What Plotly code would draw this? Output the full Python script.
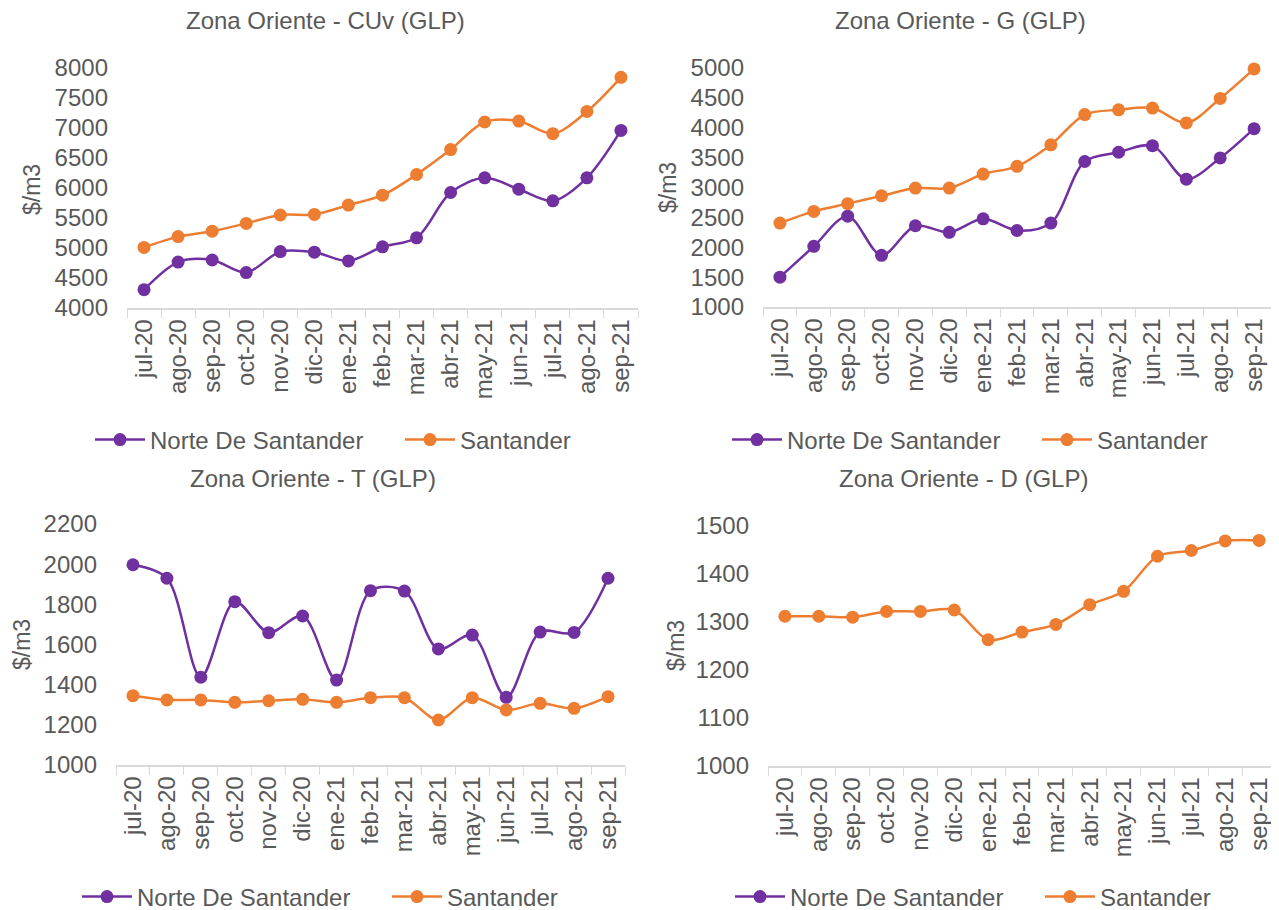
import plotly.graph_objects as go

months = ["jul-20", "ago-20", "sep-20", "oct-20", "nov-20", "dic-20", "ene-21", "feb-21",
          "mar-21", "abr-21", "may-21", "jun-21", "jul-21", "ago-21", "sep-21"]

cuv_norte = [4305, 4765, 4800, 4590, 4940, 4930, 4785, 5020, 5170, 5925, 6170, 5980, 5786, 6170, 6960]
cuv_sant = [5010, 5190, 5280, 5410, 5550, 5560, 5715, 5880, 6225, 6640, 7100, 7115, 6905, 7275, 7845]

g_norte = [1500, 2015, 2520, 1865, 2360, 2250, 2475, 2280, 2405, 3435, 3590, 3700, 3140, 3495, 3985]
g_sant = [2405, 2600, 2730, 2860, 2990, 2990, 3225, 3355, 3715, 4220, 4300, 4330, 4080, 4490, 4985]

t_norte = [1997, 1930, 1437, 1813, 1659, 1742, 1423, 1868, 1866, 1578, 1647, 1337, 1662, 1660, 1930]
t_sant = [1345, 1324, 1324, 1312, 1320, 1327, 1312, 1335, 1335, 1224, 1335, 1274, 1307, 1282, 1340]

d_norte = [None] * 15
d_sant = [1312, 1312, 1310, 1322, 1322, 1325, 1263, 1279, 1295, 1336, 1364, 1437, 1449, 1469, 1470]

titles = ["Zona Oriente - CUv (GLP)", "Zona Oriente - G (GLP)",
          "Zona Oriente - T (GLP)", "Zona Oriente - D (GLP)"]
series_names = ["Norte De Santander", "Santander"]

PURPLE = "#7030A0"
ORANGE = "#ED7D31"
TXT = "#595959"
AXC = "#D9D9D9"
FONT = "Liberation Sans, Arial, sans-serif"

# page body has an 8px margin: figure is placed at (8, 8) in the window
OFF = 8
W, H = 1279 - OFF, 910 - OFF


def px_x(v):
    return (v - OFF) / W


def px_y(v):
    return 1 - (v - OFF) / H


panels = [
    dict(norte=cuv_norte, sant=cuv_sant, xd=(127, 638), yd=(68, 308), rng=(4000, 8000), dt=500,
         title=(325, 20), ytitle=(32, 190), legend=(90, 440)),
    dict(norte=g_norte, sant=g_sant, xd=(763, 1271), yd=(68, 307), rng=(1000, 5000), dt=500,
         title=(960, 20), ytitle=(668, 188), legend=(727, 440)),
    dict(norte=t_norte, sant=t_sant, xd=(116, 625), yd=(524, 765), rng=(1000, 2200), dt=200,
         title=(313, 478), ytitle=(22, 645), legend=(77, 897)),
    dict(norte=d_norte, sant=d_sant, xd=(768, 1276), yd=(526, 766), rng=(1000, 1500), dt=100,
         title=(963, 478), ytitle=(676, 645), legend=(730, 897)),
]

fig = go.Figure()
layout = dict(
    width=W, height=H,
    margin=dict(l=0, r=0, t=0, b=0, autoexpand=False),
    paper_bgcolor="white", plot_bgcolor="white",
    font=dict(family=FONT, color=TXT),
    showlegend=True,
    annotations=[],
)

for i, p in enumerate(panels):
    n = "" if i == 0 else str(i + 1)
    xa, ya = "x" + n, "y" + n
    leg = "legend" + n
    for name, vals, col in [(series_names[0], p["norte"], PURPLE), (series_names[1], p["sant"], ORANGE)]:
        fig.add_trace(go.Scatter(
            x=months, y=vals, name=name, mode="lines+markers",
            line=dict(color=col, width=2.5, shape="spline", smoothing=0.9),
            marker=dict(color=col, size=13),
            xaxis=xa, yaxis=ya, legend=leg, showlegend=True, cliponaxis=False,
        ))
    layout["xaxis" + n] = dict(
        domain=[px_x(p["xd"][0]), px_x(p["xd"][1])], anchor=ya,
        type="category", tickson="boundaries", ticks="outside", ticklen=8,
        tickcolor=AXC, showline=True, linecolor=AXC, linewidth=1.5,
        showgrid=False, tickangle=-90, tickfont=dict(size=24, color=TXT),
        range=[-0.5, 14.5], fixedrange=True, automargin=False,
    )
    layout["yaxis" + n] = dict(
        domain=[px_y(p["yd"][1]), px_y(p["yd"][0])], anchor=xa,
        range=list(p["rng"]), dtick=p["dt"], showgrid=False, zeroline=False,
        showline=False, ticks="", tickfont=dict(size=24, color=TXT),
        ticklabelstandoff=18, automargin=False,
    )
    layout[leg] = dict(
        orientation="h", x=px_x(p["legend"][0]), y=px_y(p["legend"][1]),
        xanchor="left", yanchor="middle", font=dict(size=24, color=TXT),
        bgcolor="rgba(0,0,0,0)", itemwidth=50, tracegroupgap=0,
        entrywidth=245,
    )
    layout["annotations"].append(dict(
        text=titles[i], x=px_x(p["title"][0]), y=px_y(p["title"][1]), xref="paper", yref="paper",
        showarrow=False, xanchor="center", yanchor="middle", font=dict(size=24, color=TXT),
    ))
    layout["annotations"].append(dict(
        text="$/m3", x=px_x(p["ytitle"][0]), y=px_y(p["ytitle"][1]), xref="paper", yref="paper",
        showarrow=False, xanchor="center", yanchor="middle", textangle=-90,
        font=dict(size=23, color=TXT),
    ))

fig.update_layout(**layout)
fig.write_html("out.html")
